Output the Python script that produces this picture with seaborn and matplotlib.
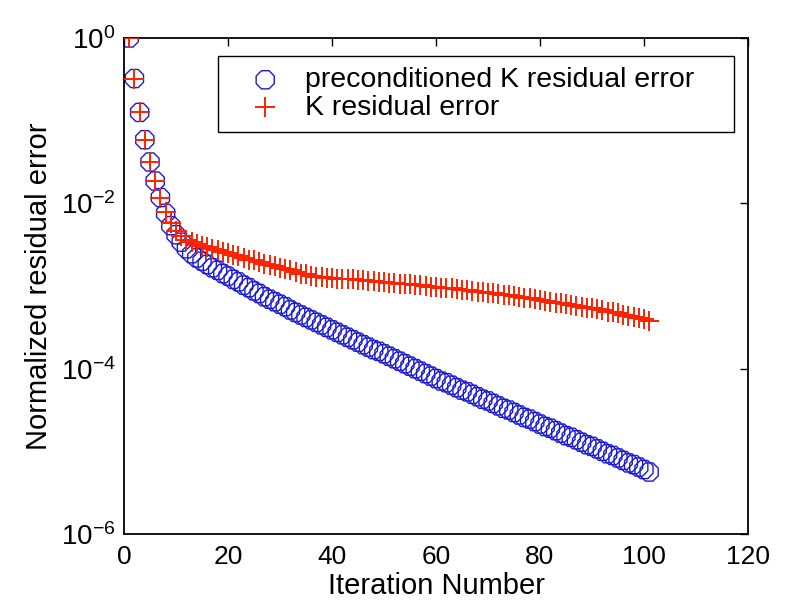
import numpy as np
import pandas as pd
import matplotlib
matplotlib.use("Agg")
import matplotlib.pyplot as plt
from matplotlib.ticker import FixedLocator, FuncFormatter
import seaborn as sns

# Iteration numbers
iterations = list(range(1, 102))

# log10 of the normalized residual error, preconditioned K
precond_log10 = [
    0.00, -0.49, -0.90, -1.23, -1.50, -1.73, -1.93, -2.12, -2.27, -2.38,
    -2.47, -2.55, -2.61, -2.66, -2.70, -2.74, -2.78, -2.81, -2.85, -2.88,
    -2.92, -2.95, -2.99, -3.02, -3.06, -3.09, -3.13, -3.16, -3.19, -3.22,
    -3.25, -3.29, -3.32, -3.35, -3.38, -3.41, -3.44, -3.47, -3.50, -3.53,
    -3.56, -3.59, -3.62, -3.65, -3.68, -3.71, -3.74, -3.77, -3.79, -3.82,
    -3.85, -3.88, -3.91, -3.94, -3.97, -4.00, -4.03, -4.06, -4.09, -4.12,
    -4.15, -4.17, -4.20, -4.23, -4.26, -4.28, -4.31, -4.34, -4.37, -4.39,
    -4.42, -4.45, -4.48, -4.50, -4.53, -4.56, -4.59, -4.61, -4.64, -4.67,
    -4.70, -4.72, -4.75, -4.78, -4.81, -4.83, -4.86, -4.89, -4.92, -4.94,
    -4.97, -5.00, -5.03, -5.05, -5.08, -5.11, -5.14, -5.16, -5.19, -5.22,
    -5.25,
]

# log10 of the normalized residual error, plain K
plain_log10 = [
    0.00, -0.49, -0.90, -1.23, -1.50, -1.73, -1.93, -2.10, -2.24, -2.34,
    -2.40, -2.44, -2.47, -2.49, -2.51, -2.53, -2.55, -2.57, -2.59, -2.60,
    -2.62, -2.64, -2.66, -2.68, -2.69, -2.71, -2.73, -2.74, -2.76, -2.78,
    -2.80, -2.81, -2.83, -2.85, -2.86, -2.88, -2.89, -2.89, -2.90, -2.90,
    -2.91, -2.91, -2.92, -2.92, -2.93, -2.93, -2.94, -2.94, -2.95, -2.95,
    -2.96, -2.96, -2.97, -2.98, -2.98, -2.99, -2.99, -3.00, -3.01, -3.01,
    -3.02, -3.03, -3.03, -3.04, -3.05, -3.05, -3.06, -3.07, -3.07, -3.08,
    -3.09, -3.10, -3.11, -3.11, -3.12, -3.13, -3.14, -3.15, -3.16, -3.17,
    -3.18, -3.19, -3.20, -3.21, -3.22, -3.23, -3.24, -3.25, -3.26, -3.27,
    -3.28, -3.29, -3.31, -3.32, -3.33, -3.35, -3.36, -3.37, -3.39, -3.40,
    -3.42,
]

series_labels = ["preconditioned K residual error", "K residual error"]
x_ticks = [0, 20, 40, 60, 80, 100, 120]
y_tick_exponents = [0, -2, -4, -6]

sns.set_theme(style="white")
plt.rcParams["font.family"] = ["Liberation Sans", "DejaVu Sans"]
plt.rcParams["mathtext.fontset"] = "custom"
plt.rcParams["mathtext.rm"] = "Liberation Sans"
plt.rcParams["mathtext.it"] = "Liberation Sans"
plt.rcParams["text.color"] = "black"
plt.rcParams["axes.labelcolor"] = "black"

df_pre = pd.DataFrame({"iteration": iterations,
                       "error": 10.0 ** np.array(precond_log10)})
df_k = pd.DataFrame({"iteration": iterations,
                     "error": 10.0 ** np.array(plain_log10)})

fig = plt.figure(figsize=(7.88, 6.16), dpi=100)
ax = fig.add_axes([0.1574, 0.1331, 0.7918, 0.8052])

blue = "#1a1ad6"
red = "#ff2200"

sns.scatterplot(data=df_pre, x="iteration", y="error", ax=ax, marker="8",
                s=200, facecolors="none", edgecolor=blue, linewidth=1.0,
                label=series_labels[0], zorder=2)
sns.scatterplot(data=df_k, x="iteration", y="error", ax=ax, marker="+",
                s=190, color=red, linewidth=1.4,
                label=series_labels[1], zorder=3)

ax.set_yscale("log")
ax.set_xlim(0, 120)
ax.set_ylim(1e-6, 1e0)
ax.xaxis.set_major_locator(FixedLocator(x_ticks))
ax.yaxis.set_major_locator(FixedLocator([10.0 ** e for e in y_tick_exponents]))
ax.yaxis.set_minor_locator(FixedLocator([]))
ax.yaxis.set_major_formatter(
    FuncFormatter(lambda v, _: r"$\mathregular{10^{%d}}$" % round(np.log10(v))))

ax.tick_params(axis="both", which="major", direction="in", length=6,
               width=1.0, top=True, right=True, colors="black", pad=8)
ax.tick_params(axis="x", labelsize=19)
ax.tick_params(axis="y", labelsize=20, pad=6)
for spine in ax.spines.values():
    spine.set_visible(True)
    spine.set_color("black")
    spine.set_linewidth(1.3)

ax.set_xlabel("Iteration Number", fontsize=21, labelpad=2)
ax.set_ylabel("Normalized residual error", fontsize=21, labelpad=6)

leg = ax.legend(loc="upper left", bbox_to_anchor=(0.151, 0.80, 0.827, 0.164),
                mode="expand", borderaxespad=0, fontsize=20.5, frameon=True,
                fancybox=False, edgecolor="black", framealpha=1,
                handletextpad=0.15, borderpad=0.4, labelspacing=0.05,
                handlelength=2.5)
leg.get_frame().set_linewidth(1.0)
for t in leg.get_texts():
    t.set_color("black")

fig.savefig("out.png", dpi=100)
